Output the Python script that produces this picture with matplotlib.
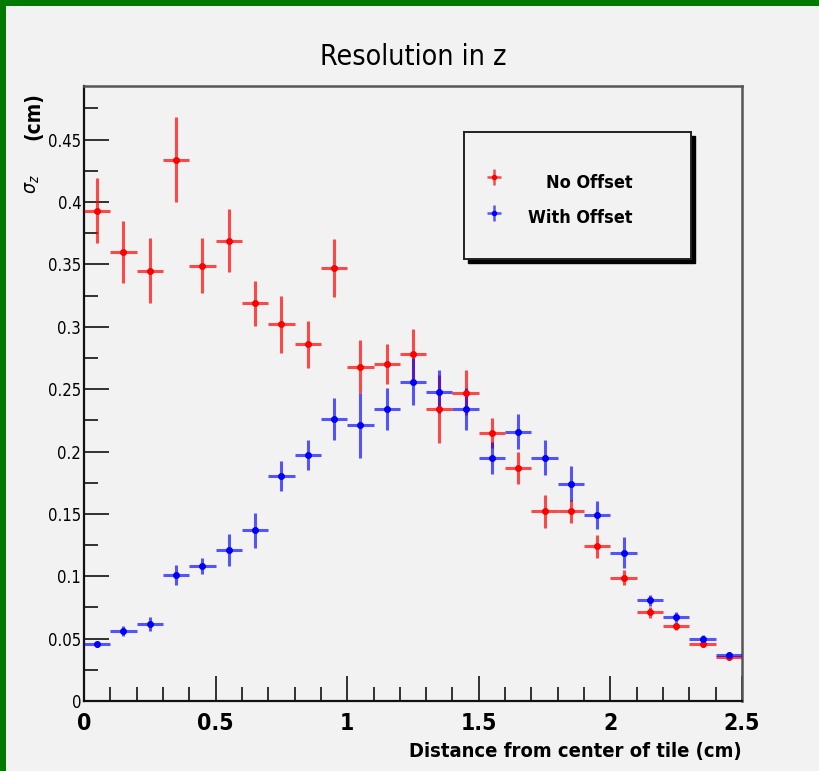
import matplotlib
matplotlib.use("Agg")
import matplotlib.pyplot as plt
from matplotlib.patches import Rectangle
import numpy as np

plt.rcParams['font.family'] = ['DejaVu Sans']
plt.rcParams['font.stretch'] = 'condensed'

# ---- data ----
x_centers = [0.05, 0.15, 0.25, 0.35, 0.45, 0.55, 0.65, 0.75, 0.85, 0.95,
             1.05, 1.15, 1.25, 1.35, 1.45, 1.55, 1.65, 1.75, 1.85, 1.95,
             2.05, 2.15, 2.25, 2.35, 2.45]
x_halfwidth = 0.05

no_offset = [0.393, 0.360, 0.345, 0.434, 0.349, 0.369, 0.319, 0.302, 0.286, 0.347,
             0.268, 0.270, 0.278, 0.234, 0.247, 0.215, 0.187, 0.152, 0.152, 0.124,
             0.099, 0.071, 0.060, 0.046, 0.035]
no_offset_err = [0.026, 0.025, 0.026, 0.034, 0.022, 0.025, 0.018, 0.023, 0.019, 0.023,
                 0.021, 0.016, 0.020, 0.027, 0.018, 0.012, 0.013, 0.013, 0.009, 0.0093,
                 0.006, 0.0045, 0.003, 0.0025, 0.002]

with_offset = [0.0455, 0.056, 0.062, 0.101, 0.1085, 0.121, 0.137, 0.180, 0.197, 0.226,
               0.221, 0.234, 0.256, 0.248, 0.234, 0.195, 0.216, 0.195, 0.174, 0.149,
               0.119, 0.0806, 0.067, 0.050, 0.037]
with_offset_err = [0.002, 0.004, 0.0057, 0.0077, 0.0064, 0.013, 0.014, 0.012, 0.012, 0.0166,
                   0.026, 0.017, 0.019, 0.017, 0.017, 0.013, 0.014, 0.014, 0.014, 0.011,
                   0.0126, 0.0047, 0.004, 0.003, 0.0025]

legend_labels = ["No Offset", "With Offset"]

BG = '#f2f2f2'
W, H = 819, 771
fig = plt.figure(figsize=(W / 100, H / 100), dpi=100, facecolor=BG)

def fx(px):
    return px / W

def fy(py):
    return 1 - py / H

# green frame on top and left
fig.add_artist(Rectangle((0, fy(6)), 1, 6 / H, transform=fig.transFigure,
                         facecolor='#007a00', edgecolor='none', zorder=10))
fig.add_artist(Rectangle((0, 0), 6 / W, 1, transform=fig.transFigure,
                         facecolor='#007a00', edgecolor='none', zorder=10))

ax_l, ax_r, ax_t, ax_b = 84, 742, 86, 701
ax = fig.add_axes([fx(ax_l), fy(ax_b), (ax_r - ax_l) / W, (ax_b - ax_t) / H])
ax.set_facecolor(BG)

ax.errorbar(x_centers, no_offset, yerr=no_offset_err, xerr=x_halfwidth,
            fmt='o', color='red', ms=4, elinewidth=2.2, capsize=0,
            ecolor=(1, 0, 0, 0.7), zorder=3)
ax.errorbar(x_centers, with_offset, yerr=with_offset_err, xerr=x_halfwidth,
            fmt='o', color='blue', ms=4, elinewidth=2.2, capsize=0,
            ecolor=(0, 0, 1, 0.65), zorder=3)

ax.set_xlim(0, 2.5)
ax.set_ylim(0, 0.493)

ax.set_xticks(np.arange(0, 2.51, 0.5))
ax.set_xticks(np.arange(0, 2.51, 0.1), minor=True)
ax.set_xticklabels(['0', '0.5', '1', '1.5', '2', '2.5'], fontsize=16.5, fontweight='bold')
ax.set_yticks(np.arange(0, 0.46, 0.05))
ax.set_yticks(np.arange(0, 0.49, 0.025), minor=True)
ax.set_yticklabels(['0', '0.05', '0.1', '0.15', '0.2', '0.25', '0.3', '0.35', '0.4', '0.45'],
                   fontsize=12)
ax.tick_params(axis='both', which='major', direction='in', length=18, width=1.3,
               color='#222222', right=False, top=False)
ax.tick_params(axis='both', which='minor', direction='in', length=10, width=1.3,
               color='#222222', right=False, top=False)
ax.tick_params(axis='x', which='major', pad=8)
ax.tick_params(axis='y', which='major', pad=2)

for s in ['left', 'bottom']:
    ax.spines[s].set_color('#111111')
    ax.spines[s].set_linewidth(1.6)
for s in ['top', 'right']:
    ax.spines[s].set_color('#555555')
    ax.spines[s].set_linewidth(1.8)

fig.text(fx(413), fy(57), 'Resolution in z', ha='center', va='center', fontsize=20.5,
         fontweight='medium')
fig.text(fx(742), fy(752), 'Distance from center of tile (cm)', ha='right', va='center',
         fontsize=14.5, fontweight='bold')
fig.text(fx(33), fy(184), r'$\sigma_z$', rotation=90, ha='center', va='center',
         fontsize=14)
fig.text(fx(33), fy(116), '(cm)', rotation=90, ha='center', va='center',
         fontsize=15, fontweight='bold')

# legend box with shadow
lx0, ly0, lx1, ly1 = 464, 132, 691, 259
fig.add_artist(Rectangle((fx(lx0 + 4), fy(ly1 + 4)), (lx1 - lx0) / W, (ly1 - ly0) / H,
                         transform=fig.transFigure, facecolor='black',
                         edgecolor='black', zorder=5))
lax = fig.add_axes([fx(lx0), fy(ly1), (lx1 - lx0) / W, (ly1 - ly0) / H], zorder=6)
lax.set_facecolor(BG)
lax.set_xlim(lx0, lx1)
lax.set_ylim(ly1, ly0)
lax.set_xticks([])
lax.set_yticks([])
for s in lax.spines.values():
    s.set_color('#222222')
    s.set_linewidth(1.4)
for lab, col, ecol, yy, ty in [(legend_labels[0], 'red', (1, 0, 0, 0.7), 177, 183),
                               (legend_labels[1], 'blue', (0, 0, 1, 0.65), 213, 218)]:
    lax.errorbar([494], [yy], xerr=[7], yerr=[8], fmt='o', color=col, ms=3,
                 ecolor=ecol, elinewidth=1.8, capsize=0)
    lax.text(633, ty, lab, ha='right', va='center', fontsize=13, fontweight='bold')

fig.savefig('out.png', dpi=100, facecolor=BG)
